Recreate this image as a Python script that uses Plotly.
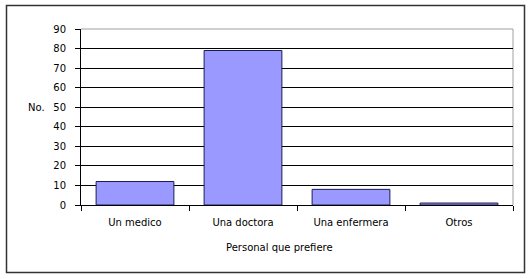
import plotly.graph_objects as go

categories = ["Un medico", "Una doctora", "Una enfermera", "Otros"]
values = [12, 79, 8, 1]
y_ticks = [0, 10, 20, 30, 40, 50, 60, 70, 80, 90]
x_title = "Personal que prefiere"
y_title = "No."

W, H = 531, 279
ML, MR, MT, MB = 81, 18, 29, 74
PW, PH = W - ML - MR, H - MT - MB

def px_x(p):
    return (p - ML) / PW

def px_y(p):
    return (H - MB - p) / PH

FONT = "DejaVu Sans"

fig = go.Figure(go.Bar(
    x=categories, y=values,
    marker=dict(color="#9999ff", line=dict(color="#1c1c50", width=1)),
    width=0.72,
))

fig.update_layout(
    width=W, height=H,
    margin=dict(l=ML, r=MR, t=MT, b=MB, pad=0),
    paper_bgcolor="white", plot_bgcolor="white",
    showlegend=False,
    font=dict(family=FONT, size=10, color="black"),
)

fig.update_xaxes(
    type="category",
    showline=True, linecolor="black", linewidth=1,
    ticks="outside", tickson="boundaries", ticklen=5, tickcolor="black",
    showgrid=False, zeroline=False,
    ticklabelstandoff=8,
    tickfont=dict(family=FONT, size=10, color="black"),
)
fig.update_yaxes(
    range=[0, 90], tickvals=y_ticks,
    showline=True, linecolor="black", linewidth=1,
    ticks="outside", ticklen=5, tickcolor="black",
    showgrid=True, gridcolor="black", gridwidth=1,
    zeroline=False,
    ticklabelstandoff=7,
    tickfont=dict(family=FONT, size=10, color="black"),
)

# plot-area border (gray top and right)
fig.add_shape(type="line", xref="paper", yref="paper", x0=0, x1=1, y0=1, y1=1,
              line=dict(color="#a0a0a0", width=1), layer="above")
fig.add_shape(type="line", xref="paper", yref="paper", x0=1, x1=1, y0=0, y1=1,
              line=dict(color="#a0a0a0", width=1), layer="below")

# outer chart frame
fig.add_shape(type="rect", xref="paper", yref="paper",
              x0=px_x(6.5), x1=px_x(524.5), y0=px_y(272.5), y1=px_y(5.5),
              line=dict(color="#333333", width=1.5), layer="below")

fig.add_annotation(text=y_title, xref="paper", yref="y", x=px_x(36), y=50,
                   showarrow=False, xanchor="center", yanchor="middle",
                   font=dict(family=FONT, size=10, color="black"))
fig.add_annotation(text=x_title, xref="paper", yref="paper", x=px_x(279), y=px_y(247),
                   showarrow=False, xanchor="center", yanchor="middle",
                   font=dict(family=FONT, size=10, color="black"))

fig.write_html("out.html")
